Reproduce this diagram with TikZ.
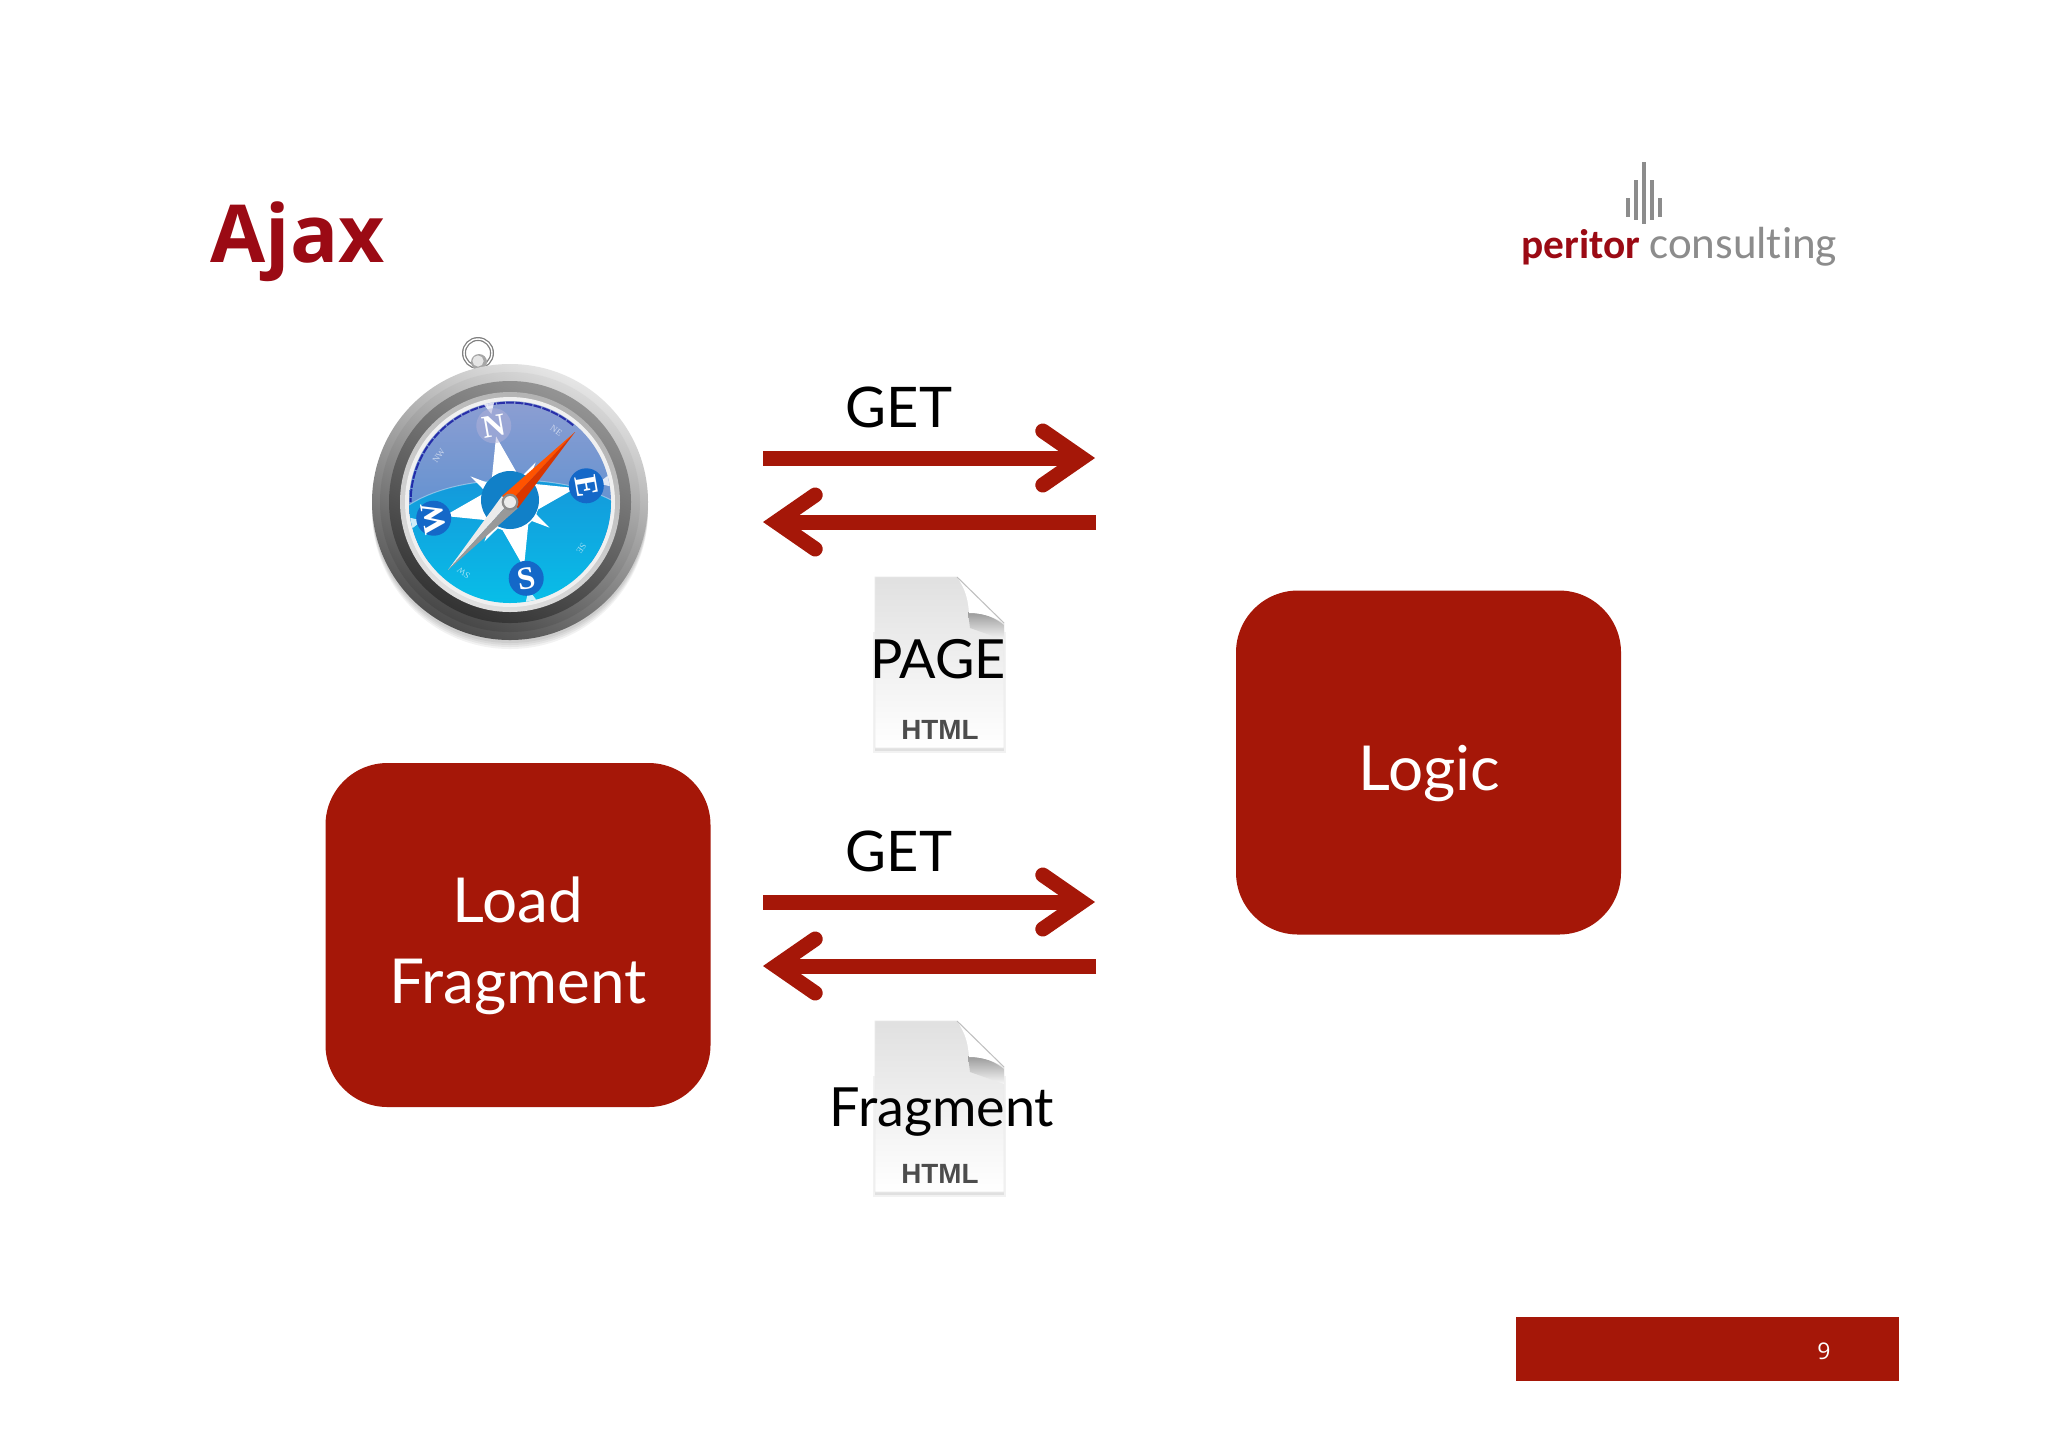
\documentclass[tikz,border=0pt]{standalone}
\usepackage{fontspec}
\usetikzlibrary{arrows.meta}
\setmainfont{Lato}
\newfontfamily\logofont[Ligatures=NoCommon]{Carlito}
\newfontfamily\dialfont{Liberation Serif}
\newfontfamily\iconfont{Liberation Sans}
\newfontfamily\numfont{Open Sans}
\definecolor{slidered}{HTML}{A51708}
\definecolor{titlered}{HTML}{9B0A14}
\definecolor{logogrey}{HTML}{8C8C8C}
\definecolor{dialblue}{HTML}{1180C8}
\definecolor{labelblue}{HTML}{1468C8}
\definecolor{skytop}{HTML}{8C9ED2}
\definecolor{skylow}{HTML}{4F8CD0}
\definecolor{seatop}{HTML}{1596DA}
\definecolor{seabottom}{HTML}{08BEE8}
\tikzset{
  redbox/.style={fill=slidered,rounded corners=31pt,minimum width=192.5pt,minimum height=172pt},
  boxlabel/.style={text=white,anchor=base,inner sep=0pt,font=\fontsize{31}{31}\selectfont},
  flowarrow/.style={slidered,line width=7.5pt,-{Straight Barb[length=19.5pt,width=27pt,line cap=round,line join=miter]}},
  flowlabel/.style={font=\fontsize{27}{30}\selectfont,anchor=base,inner sep=0pt},
  dialletter/.style={text=white,font=\dialfont\bfseries\fontsize{16}{16}\selectfont,inner sep=0pt},
  dialsmall/.style={text=white,opacity=.6,font=\dialfont\fontsize{4.5}{5}\selectfont,inner sep=0pt},
  logobar/.style={logogrey,line width=1.6pt}
}
\begin{document}
\begin{tikzpicture}[x=0.5pt,y=-0.5pt]
  \useasboundingbox (0,0) rectangle (2048,1447);
  \fill[white] (0,0) rectangle (2048,1447);

  % Title and logo
  \node[anchor=base west,inner sep=0pt,text=titlered,font=\numfont\bfseries\fontsize{40}{40}\selectfont] (title) at (210,262) {Ajax};
  \draw[logobar] (1628,198) -- (1628,217);
  \draw[logobar] (1636,180) -- (1636,220);
  \draw[logobar] (1644,162) -- (1644,224);
  \draw[logobar] (1652,180) -- (1652,220);
  \draw[logobar] (1660,198) -- (1660,217);
  \node[anchor=base west,inner sep=0pt,text=titlered,font=\logofont\bfseries\fontsize{20.7}{21}\selectfont] (peritor) at (1521,258) {peritor};
  \node[anchor=base west,inner sep=0pt,text=logogrey,font=\logofont\fontsize{22.5}{23}\selectfont] (consulting) at (1649,258) {consulting};

  % Boxes
  \node[redbox] (logic) at (1428.5,762.5) {};
  \node[redbox] (loadfragment) at (518,935) {};
  \node[boxlabel] (logiclabel) at (1429,790) {Logic};
  \node[boxlabel] (loadlabel) at (518,922) {Load};
  \node[boxlabel] (fragmentlabel) at (518,1003) {Fragment};

  % Page number bar
  \fill[slidered] (1516,1317) rectangle (1899,1381);
  \node[text=white,font=\numfont\fontsize{11.5}{12}\selectfont,inner sep=0pt] (pagenum) at (1824,1351) {9};

  % Requests, responses and document icons
  \foreach \dy/\docx/\docy/\doctext in {0/938/678/PAGE,444/942/682/Fragment}{
    \begin{scope}[shift={(0,\dy)}]
      \coordinate (getstart\dy) at (763,458);
      \coordinate (getend\dy) at (1095,458);
      \coordinate (backstart\dy) at (1096,522);
      \coordinate (backend\dy) at (763,522);
      \draw[flowarrow] (getstart\dy) -- (getend\dy);
      \draw[flowarrow] (backstart\dy) -- (backend\dy);
      \node[flowlabel,font=\fontsize{28}{30}\selectfont] (get\dy) at (899,427) {GET};
      \fill[black,opacity=.05] (873,632) rectangle (1006,753);
      \fill[black,opacity=.07] (875,640) rectangle (1004,751);
      \shade[top color=black!12,bottom color=white,draw=black!8,line width=.3pt]
        (875,577) -- (957,577) -- (1004,623) -- (1004,748) -- (875,748) -- cycle;
      \shade[top color=black!40,bottom color=black!3] (968,612) .. controls (985,613) and (995,618) .. (1004,625) -- (1004,640) -- (970,628) -- cycle;
      \fill[white] (957,577) .. controls (966,590) and (968,600) .. (969,613) .. controls (985,613) and (995,618) .. (1004,623) -- cycle;
      \draw[black!25,line width=.5pt] (957,577) -- (1004,623);
      \node[font=\iconfont\bfseries\fontsize{13.9}{14}\selectfont,text=black!70,anchor=base,inner sep=0pt] (html\dy) at (940,739) {HTML};
      \node[flowlabel] (doc\dy) at (\docx,\docy) {\doctext};
    \end{scope}
  }

  % Compass
  \begin{scope}[shift={(510,502)}]
    \foreach \shr in {3,5,7,9}
      \fill[black,opacity=.05] (0,\shr) circle (69pt);
    \draw[black!50,line width=2pt] (-32,-149) circle (7pt);
    \draw[white,line width=.7pt] (-32,-149) circle (7pt);
    \fill[black!35] (-31,-140) circle (4pt);
    \fill[black!10] (-32,-141) circle (2.8pt);
    \shade[top color=black!10,bottom color=black!70,shading angle=-25] (0,0) circle (69pt);
    \shade[top color=black!15,bottom color=black!72,shading angle=-25] (0,0) circle (65pt);
    \shade[top color=black!42,bottom color=black!80,shading angle=-25] (0,0) circle (60.5pt);
    \shade[top color=black!30,bottom color=black!12,shading angle=-25] (0,0) circle (55pt);
    \fill[black!6] (0,0) circle (52.5pt);
    \begin{scope}
      \clip (0,0) circle (50.5pt);
      \shade[top color=skytop,bottom color=skylow] (-101,-101) rectangle (101,60);
      \shade[top color=seatop,bottom color=seabottom] (-101,101) -- (-101,3) .. controls (-50,-30) and (50,-29) .. (101,-2) -- (101,101) -- cycle;
      \draw[white,opacity=.4,line width=.5pt] (-101,3) .. controls (-50,-30) and (50,-29) .. (101,-2);
      \draw[blue!60!black,opacity=.7,line width=1pt,dash pattern=on 4pt off .6pt] (-50.5:49.7*2) arc[start angle=-50.5,end angle=-180,radius=99.4];
    \end{scope}
    % Star
    \fill[white] (-12:67) -- (15:29) -- (25:29) -- (33:47) -- (41:29) -- (51:29)
      -- (78:67) -- (105:29) -- (115:29) -- (123:47) -- (131:29) -- (141:29)
      -- (168:67) -- (195:29) -- (205:29) -- (213:47) -- (221:29) -- (231:29)
      -- (258:67) -- (285:29) -- (295:29) -- (303:47) -- (311:29) -- (321:29) -- cycle;
    \fill[dialblue] (0,-2) circle (14.5pt);
    % Rim points
    \foreach \rimang in {-12,78,168,258}
      \fill[white,opacity=.8] (\rimang:90) -- (\rimang-3:101) -- (\rimang+3:101) -- cycle;
    % Letters
    \fill[blue!50!black!30,opacity=.5] (258:78) circle (8.75pt);
    \fill[labelblue] (-12:78) circle (8.75pt);
    \fill[labelblue] (78:78) circle (8.75pt);
    \fill[labelblue] (168:78) circle (8.75pt);
    \node[dialletter,rotate=10] (north) at (258:78) {N};
    \node[dialletter,rotate=-80] (east) at (-12:78) {E};
    \node[dialletter,rotate=10] (south) at (78:78) {S};
    \node[dialletter,rotate=100] (west) at (168:78) {W};
    \node[dialsmall,rotate=-35] (northeast) at (303:85) {NE};
    \node[dialsmall,rotate=55] (northwest) at (213:85) {NW};
    \node[dialsmall,rotate=-125] (southeast) at (33:85) {SE};
    \node[dialsmall,rotate=145] (southwest) at (123:85) {SW};
    % Needle
    \fill[black!8] (-62,68) -- (-8,-6) -- (0,0) -- cycle;
    \fill[black!40] (-62,68) -- (0,0) -- (8,6) -- cycle;
    \fill[orange!65!red] (65,-70) -- (-8,-6) -- (0,0) -- cycle;
    \fill[orange!50!red!85!black] (65,-70) -- (0,0) -- (8,6) -- cycle;
    \fill[black!45] (0,0) circle (4.2pt);
    \fill[white!92!black] (0,0) circle (3pt);
  \end{scope}
\end{tikzpicture}
\end{document}
